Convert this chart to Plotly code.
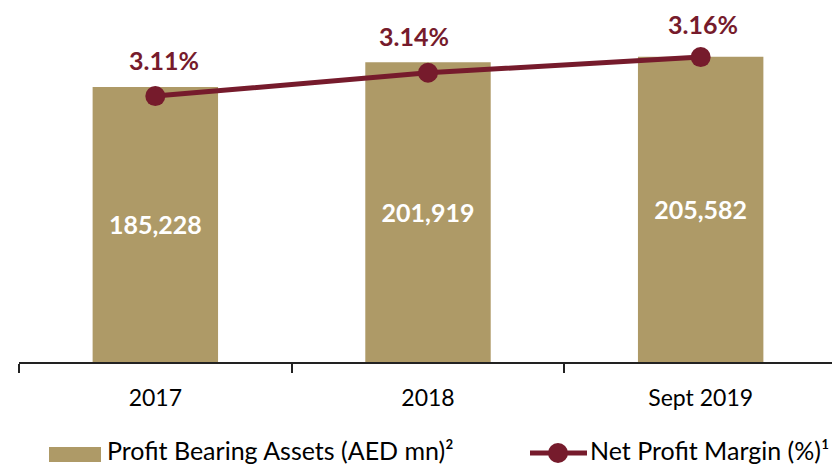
import plotly.graph_objects as go

categories = ["2017", "2018", "Sept 2019"]
assets = [185228, 201919, 205582]
margin_pct = [3.11, 3.14, 3.16]
asset_labels = ["185,228", "201,919", "205,582"]
margin_labels = ["3.11%", "3.14%", "3.16%"]
legend_names = ["Profit Bearing Assets (AED mn)²", "Net Profit Margin (%)¹"]
label_xshift = [9, -14, 2]
label_yshift = [36, 37, 33]

BAR = "#AE9A67"
LINE = "#761B2C"
FONT = "Lato"

OFF = 8  # default page body margin
W, H = 840 - OFF, 467 - OFF
ML, MR, MT, MB = 11, 3, 0, 105
PW, PH = W - ML - MR, H - MT - MB

def px(x):
    return (x - OFF - ML) / PW

def py(y):
    return (H - MB - (y - OFF)) / PH

fig = go.Figure()
fig.add_trace(go.Bar(
    x=categories, y=assets, name=legend_names[0],
    marker=dict(color=BAR, line=dict(width=0)), width=0.46,
    text=asset_labels, textposition="inside", insidetextanchor="middle",
    textfont=dict(family=FONT, size=25, color="white", weight="bold"),
    textangle=0, showlegend=False,
))
fig.add_trace(go.Scatter(
    x=categories, y=margin_pct, name=legend_names[1], yaxis="y2",
    mode="lines+markers",
    line=dict(color=LINE, width=5), marker=dict(color=LINE, size=20),
    cliponaxis=False, showlegend=False,
))

shapes = [
    dict(type="rect", xref="paper", yref="paper", x0=px(49), x1=px(101),
         y0=py(462), y1=py(447), fillcolor=BAR, line=dict(width=0)),
    dict(type="line", xref="paper", yref="paper", x0=px(530), x1=px(587),
         y0=py(453), y1=py(453), line=dict(color=LINE, width=5)),
    dict(type="circle", xref="paper", yref="paper", x0=px(548), x1=px(568),
         y0=py(463), y1=py(443), fillcolor=LINE, line=dict(width=0)),
]
annotations = [
    dict(xref="paper", yref="paper", x=px(105), y=py(467), text=legend_names[0],
         showarrow=False, xanchor="left", yanchor="bottom",
         font=dict(family=FONT, size=25, color="black")),
    dict(xref="paper", yref="paper", x=px(588), y=py(467), text=legend_names[1],
         showarrow=False, xanchor="left", yanchor="bottom",
         font=dict(family=FONT, size=25, color="black")),
]
for i, (val, lab, xs, ys) in enumerate(zip(margin_pct, margin_labels, label_xshift, label_yshift)):
    annotations.append(dict(
        x=i, y=val, xref="x", yref="y2", text=lab, showarrow=False,
        xanchor="center", yanchor="middle", xshift=xs, yshift=ys,
        font=dict(family=FONT, size=25, color=LINE, weight="bold"),
    ))

fig.update_layout(
    width=W, height=H,
    margin=dict(l=ML, r=MR, t=MT, b=MB, autoexpand=False),
    paper_bgcolor="white", plot_bgcolor="white",
    font=dict(family=FONT, size=20, color="black"),
    xaxis=dict(type="category", categoryorder="array", categoryarray=categories,
               showline=True, linecolor="#222", linewidth=1.5, ticks="outside",
               tickson="boundaries", ticklen=9, tickcolor="#222", tickwidth=1.5,
               tickfont=dict(size=23, family=FONT), showgrid=False,
               ticklabelstandoff=15, tickangle=0),
    yaxis=dict(range=[0, 238400], visible=False, showgrid=False),
    yaxis2=dict(range=[2.769, 3.223], overlaying="y", visible=False, showgrid=False),
    showlegend=False,
    shapes=shapes, annotations=annotations,
)

fig.write_html("out.html")
